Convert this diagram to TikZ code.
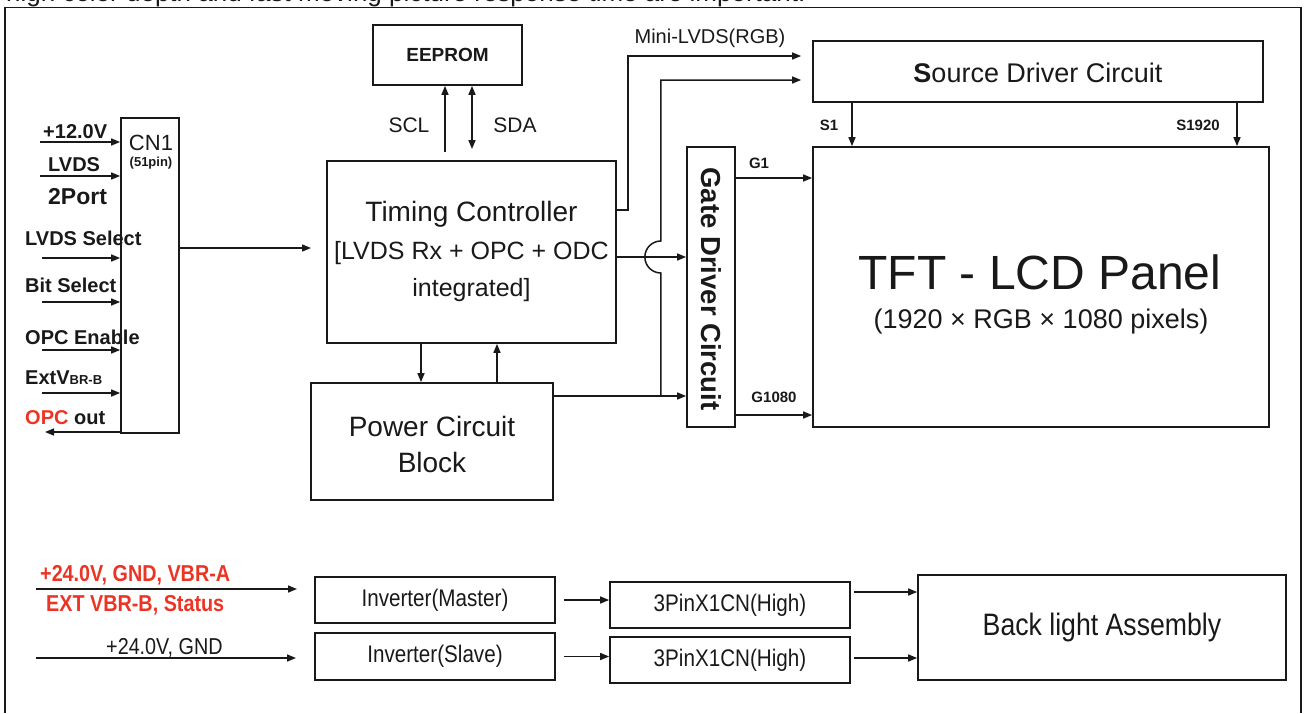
\documentclass[tikz,border=0pt]{standalone}
\usepackage{fontspec}
\setmainfont{Liberation Sans}
\newfontfamily\narrowf[FakeStretch=0.86]{Liberation Sans}
\usetikzlibrary{arrows.meta,calc}
\definecolor{ink}{RGB}{25,25,25}
\definecolor{redtxt}{RGB}{236,52,36}
\newcommand{\fsz}[1]{\fontsize{#1}{#1}\selectfont}
\begin{document}
\begin{tikzpicture}[x=1pt,y=-1pt,
  box/.style={draw=ink,line width=1.7pt,inner sep=0pt,align=center,text=ink},
  arr/.style={draw=ink,line width=1.5pt,-{Triangle[length=9pt,width=7pt]}},
  dbl/.style={draw=ink,line width=1.5pt,{Triangle[length=9pt,width=7pt]}-{Triangle[length=9pt,width=7pt]}},
  txt/.style={inner sep=0pt,text=ink},
  lab/.style={inner sep=0pt,text=ink,font=\bfseries\fsz{20},anchor=west},
  pin/.style={inner sep=0pt,text=ink,font=\bfseries\fsz{15}},
]
\useasboundingbox (0,0) rectangle (1304,713);
% header text (cut off at top) and frame
\node[txt,anchor=base west,font=\fsz{26}] (hdr) at (6,1.5) {high color depth and fast moving picture response time are important.};
\draw[draw=ink,line width=1.7pt] (5,713) -- (5,7.5) -- (1301,7.5) -- (1301,713);

% boxes
\node[box,minimum width=149,minimum height=60,font=\bfseries\fsz{19}] (eeprom) at (447.5,55) {EEPROM};
\node[box,minimum width=289,minimum height=182] (tc) at (471.5,252) {};
\node[txt,font=\fsz{28}] (tct1) at (471.5,214) {Timing Controller};
\node[txt,font=\fsz{25}] (tct2) at (471.5,253) {[LVDS Rx + OPC + ODC};
\node[txt,font=\fsz{25}] (tct3) at (471.5,290) {integrated]};
\node[box,minimum width=242,minimum height=117] (pwr) at (432,441.5) {};
\node[txt,font=\fsz{28}] (pwt1) at (432,426) {Power Circuit};
\node[txt,font=\fsz{28}] (pwt2) at (432,462) {Block};
\node[box,minimum width=58,minimum height=315] (cn1) at (150,275.5) {};
\node[txt,font=\fsz{22}] (cnt1) at (151,143) {CN1};
\node[txt,font=\bfseries\fsz{13}] (cnt2) at (151,163) {(51pin)};
\node[box,minimum width=450,minimum height=61] (src) at (1038,71.5) {};
\node[txt,font=\fsz{27}] (srct) at (1038,73) {\textbf{S}ource Driver Circuit};
\node[box,minimum width=48,minimum height=280] (gate) at (711,287) {};
\node[txt,rotate=-90,font=\bfseries\fsz{27.5}] (gatet) at (711,289) {Gate Driver Circuit};
\node[box,minimum width=456,minimum height=280] (tft) at (1041,287) {};
\node[txt,font=\fsz{48}] (tftt1) at (1040,272) {TFT - LCD Panel};
\node[txt,font=\fsz{27}] (tftt2) at (1041,322) {(1920 × RGB × 1080 pixels)};

\node[box,minimum width=240,minimum height=46,font=\narrowf\fsz{24}] (invm) at (435,600) {Inverter(Master)};
\node[box,minimum width=240,minimum height=47,font=\narrowf\fsz{24}] (invs) at (435,656.5) {Inverter(Slave)};
\node[box,minimum width=240,minimum height=46,font=\narrowf\fsz{24}] (pin1) at (730,605) {3PinX1CN(High)};
\node[box,minimum width=240,minimum height=46,font=\narrowf\fsz{24}] (pin2) at (730,660) {3PinX1CN(High)};
\node[box,minimum width=368,minimum height=105,font=\narrowf\fsz{31}] (bla) at (1102,627.5) {Back light Assembly};

% CN1 inputs
\node[lab] (l1) at (43,132) {+12.0V};
\node[lab] (l2) at (48,165) {LVDS};
\node[lab,font=\bfseries\fsz{23}] (l3) at (48,197) {2Port};
\node[lab] (l4) at (25,238) {LVDS Select};
\node[lab] (l5) at (25,285) {Bit Select};
\node[lab] (l6) at (25,337) {OPC Enable};
\node[lab] (l7) at (25,378) {ExtV{\fsz{13}BR-B}};
\node[lab] (l8) at (25,418) {\textcolor{redtxt}{OPC} out};
\coordinate (i1) at (40,142);
\coordinate (i2) at (40,176);
\coordinate (i3) at (42,258);
\coordinate (i4) at (42,302);
\coordinate (i5) at (42,350);
\coordinate (i6) at (42,393);
\coordinate (o1) at (45,432);
\draw[arr] (i1) -- (i1 -| cn1.west);
\draw[arr] (i2) -- (i2 -| cn1.west);
\draw[arr] (i3) -- (i3 -| cn1.west);
\draw[arr] (i4) -- (i4 -| cn1.west);
\draw[arr] (i5) -- (i5 -| cn1.west);
\draw[arr] (i6) -- (i6 -| cn1.west);
\draw[arr] (o1 -| cn1.west) -- (o1);

% CN1 -> TC
\coordinate (tcin) at (311,248);
\draw[arr] (cn1.east |- tcin) -- (tcin);

% EEPROM
\coordinate (sclbot) at (445,152);
\coordinate (sdabot) at (472,149);
\draw[arr] (sclbot) -- (sclbot |- eeprom.south);
\draw[dbl] (sdabot |- eeprom.south) -- (sdabot);
\node[txt,font=\fsz{21}] (scl) at (409,125) {SCL};
\node[txt,font=\fsz{21}] (sda) at (515,125) {SDA};

% TC <-> Power
\coordinate (d1) at ([shift={(-50.5,0)}]tc.south);
\coordinate (u1) at ([shift={(25.5,0)}]tc.south);
\draw[arr] (d1) -- (d1 |- pwr.north);
\draw[arr] (u1 |- pwr.north) -- (u1);

% Mini-LVDS
\coordinate (m1) at ([shift={(0,-42)}]tc.east);
\coordinate (srcin1) at ([shift={(-11,-15.5)}]src.west);
\coordinate (srcin2) at ([shift={(-11,8.5)}]src.west);
\draw[arr] (m1) -- ++(11,0) |- (srcin1);
\node[txt,font=\fsz{20}] (mlv) at (710,38) {Mini-LVDS(RGB)};

% Power -> gate and source
\coordinate (p1) at ([shift={(0,-45.5)}]pwr.east);
\coordinate (jn) at ($(p1)+(107,0)$);
\draw[arr] (p1) -- (p1 -| gate.west);
\draw[arr] (jn) -- ++(0,-123) arc[start angle=90,end angle=270,radius=16] |- (srcin2);

% TC -> gate
\coordinate (t2) at ([shift={(0,5)}]tc.east);
\draw[arr] (t2) -- (t2 -| gate.west);

% gate -> TFT
\coordinate (g1) at ([shift={(0,-109)}]gate.east);
\coordinate (g2) at ([shift={(0,128)}]gate.east);
\draw[arr] (g1) -- (g1 -| tft.west);
\draw[arr] (g2) -- (g2 -| tft.west);
\node[pin] (g1t) at (759,163) {G1};
\node[pin] (g2t) at (774,397) {G1080};

% source -> TFT
\coordinate (s1) at ([shift={(-186,0)}]src.south);
\coordinate (s2) at ([shift={(199,0)}]src.south);
\draw[arr] (s1) -- (s1 |- tft.north);
\draw[arr] (s2) -- (s2 |- tft.north);
\node[pin] (s1t) at (829,125) {S1};
\node[pin] (s2t) at (1198,125) {S1920};

% bottom inputs
\node[txt,anchor=west,font=\narrowf\bfseries\fsz{23},text=redtxt] (rt1) at (40,575) {+24.0V, GND, VBR-A};
\node[txt,anchor=west,font=\narrowf\bfseries\fsz{23},text=redtxt] (rt2) at (46,605) {EXT VBR-B, Status};
\node[txt,anchor=west,font=\narrowf\fsz{23}] (bt1) at (106,648) {+24.0V, GND};
\coordinate (r1) at (36,589);
\coordinate (r2) at (297,589);
\coordinate (r3) at (36,658);
\coordinate (r4) at (296,658);
\draw[arr] (r1) -- (r2);
\draw[arr] (r3) -- (r4);

% bottom chain
\draw[arr] ([shift={(8,0)}]invm.east) -- (invm.east -| pin1.west);
\draw[arr] ([shift={(8,0)}]invs.east) -- (invs.east -| pin2.west);
\coordinate (q1) at ([shift={(3,-13)}]pin1.east);
\coordinate (q2) at ([shift={(3,-2)}]pin2.east);
\draw[arr] (q1) -- (q1 -| bla.west);
\draw[arr] (q2) -- (q2 -| bla.west);
\end{tikzpicture}
\end{document}
